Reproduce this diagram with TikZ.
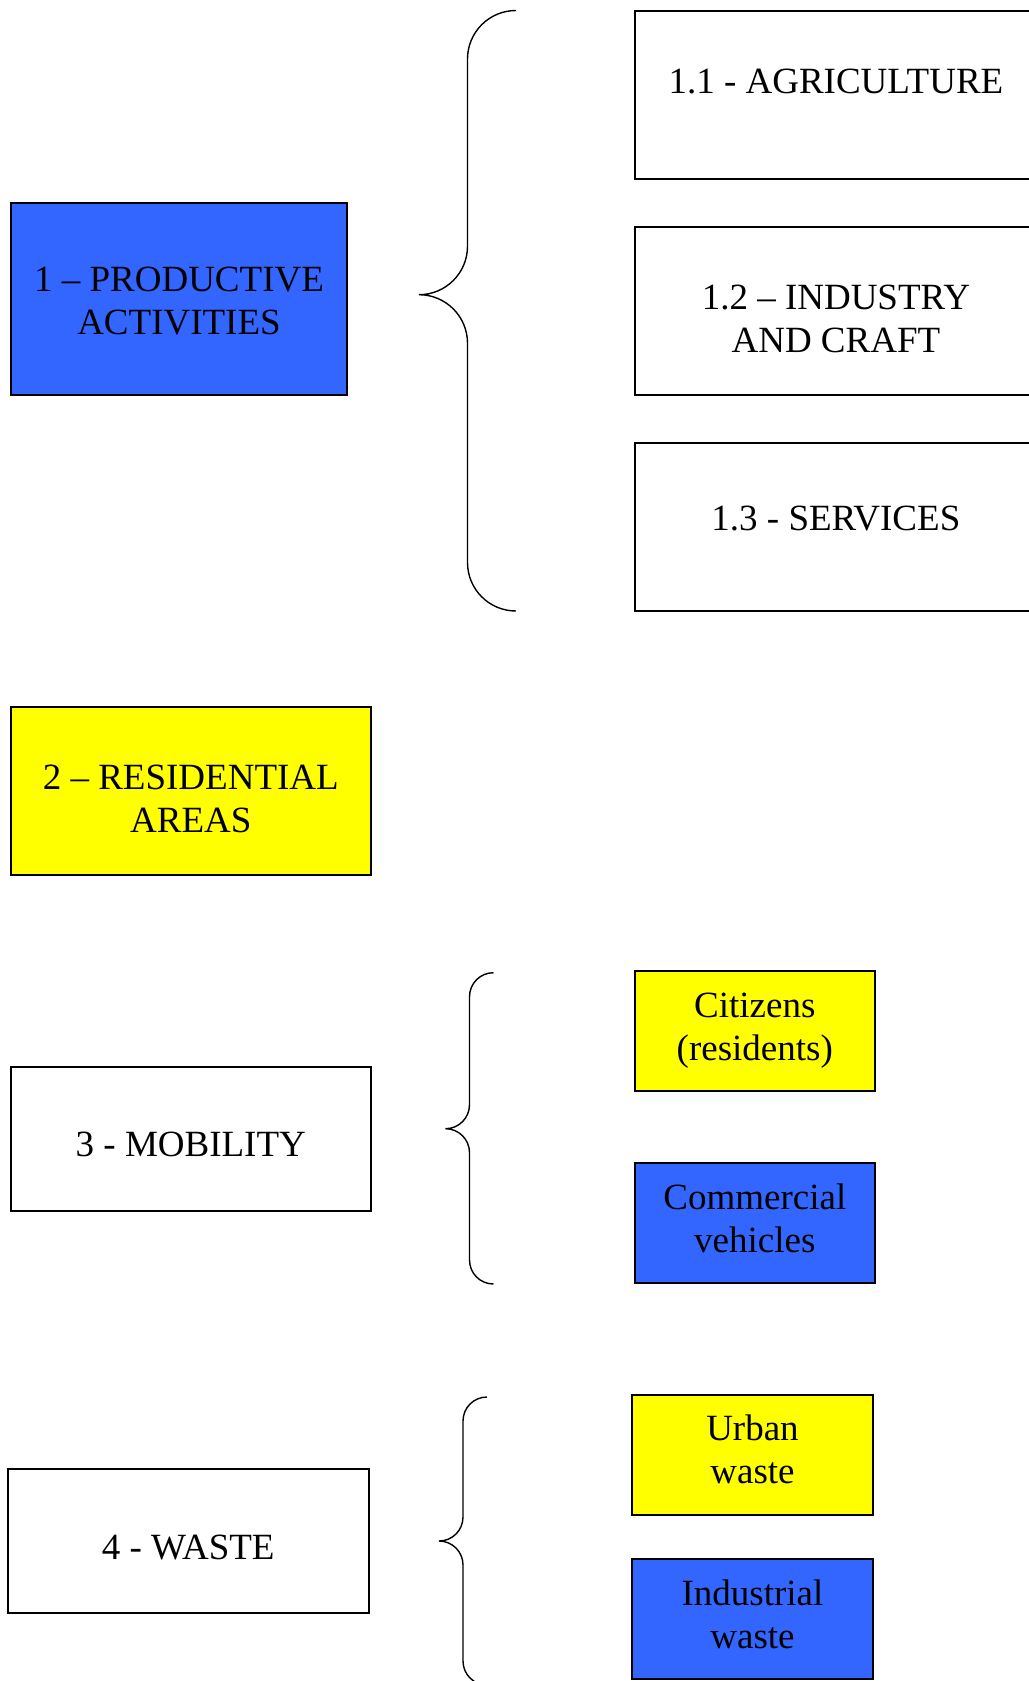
\documentclass[tikz,border=0pt]{standalone}
\usepackage{fontspec}
\setmainfont{Liberation Serif}
\usepackage{tikz}
\usepackage{xcolor}

\definecolor{catblue}{RGB}{51,102,255}
\definecolor{catyellow}{RGB}{255,255,0}

\begin{document}
\begin{tikzpicture}[x=1pt, y=-1pt,
    catbox/.style={rectangle, draw=black, line width=2pt, inner sep=0pt,
      align=center, font=\fontsize{37}{43}\selectfont},
    bluecat/.style={catbox, fill=catblue},
    yellowcat/.style={catbox, fill=catyellow},
    braceline/.style={draw=black, line width=1.4pt}]
  \useasboundingbox (0,0) rectangle (1028,1681);

  % Group 1, productive activities, and its three parts.
  \node [bluecat,
    minimum width=336.6pt,
    minimum height=192pt,
    text height=72pt] (prod) at (179,298.5) {1 -- PRODUCTIVE\\ACTIVITIES};
  \node [catbox,
    minimum width=402.6pt,
    minimum height=168pt,
    text depth=26pt] (agri) at (835.9,94.5) {1.1 - AGRICULTURE};
  \node [catbox,
    minimum width=402.6pt,
    minimum height=168pt,
    text height=84pt] (ind) at (835.9,310.6) {1.2 -- INDUSTRY\\AND CRAFT};
  \node [catbox,
    minimum width=402.6pt,
    minimum height=168pt,
    text depth=16pt] (serv) at (835.9,526.7) {1.3 - SERVICES};
  \draw [braceline] (516,10.5) .. controls (489.2,10.5) and (467.5,32.2) .. (467.5,59)
    -- (467.5,246.2)
    .. controls (467.5,273) and (445.8,294.7) .. (419,294.7)
    .. controls (445.8,294.7) and (467.5,316.4) .. (467.5,343.2)
    -- (467.5,562.5)
    .. controls (467.5,589.3) and (489.2,611) .. (516,611);

  % Group 2, residential areas, on its own.
  \node [yellowcat,
    minimum width=360.6pt,
    minimum height=168.5pt,
    text height=84pt] (resid) at (190.8,790.8) {2 -- RESIDENTIAL\\AREAS};

  % Group 3, mobility: citizens and commercial vehicles.
  \node [catbox,
    minimum width=360.6pt,
    minimum height=143.8pt,
    text height=36pt] (mob) at (190.8,1138.9) {3 - MOBILITY};
  \node [yellowcat,
    minimum width=240pt,
    minimum height=120pt] (citiz) at (754.8,1030.6) {Citizens\\(residents)};
  \node [bluecat,
    minimum width=240pt,
    minimum height=120pt,
    text depth=9pt] (comm) at (754.8,1222.5) {Commercial\\vehicles};
  \draw [braceline] (493.5,972.7) .. controls (480.2,972.7) and (469.5,983.4) .. (469.5,996.7)
    -- (469.5,1104.7)
    .. controls (469.5,1118) and (458.8,1128.7) .. (445.5,1128.7)
    .. controls (458.8,1128.7) and (469.5,1139.4) .. (469.5,1152.7)
    -- (469.5,1260)
    .. controls (469.5,1273.3) and (480.2,1284) .. (493.5,1284);

  % Group 4, waste: urban and industrial.
  \node [catbox,
    minimum width=360.6pt,
    minimum height=144pt,
    text height=38pt] (waste) at (188.2,1541) {4 - WASTE};
  \node [yellowcat,
    minimum width=240.7pt,
    minimum height=120pt,
    text depth=10pt] (urban) at (752.5,1454.5) {Urban\\waste};
  \node [bluecat,
    minimum width=240.7pt,
    minimum height=120pt,
    text depth=11pt] (indw) at (752.5,1619.2) {Industrial\\waste};
  \draw [braceline] (487,1397) .. controls (473.7,1397) and (463,1407.7) .. (463,1421)
    -- (463,1517)
    .. controls (463,1530.3) and (452.3,1541) .. (439,1541)
    .. controls (452.3,1541) and (463,1551.7) .. (463,1565)
    -- (463,1661)
    .. controls (463,1674.3) and (473.7,1685) .. (487,1685);
\end{tikzpicture}
\end{document}
